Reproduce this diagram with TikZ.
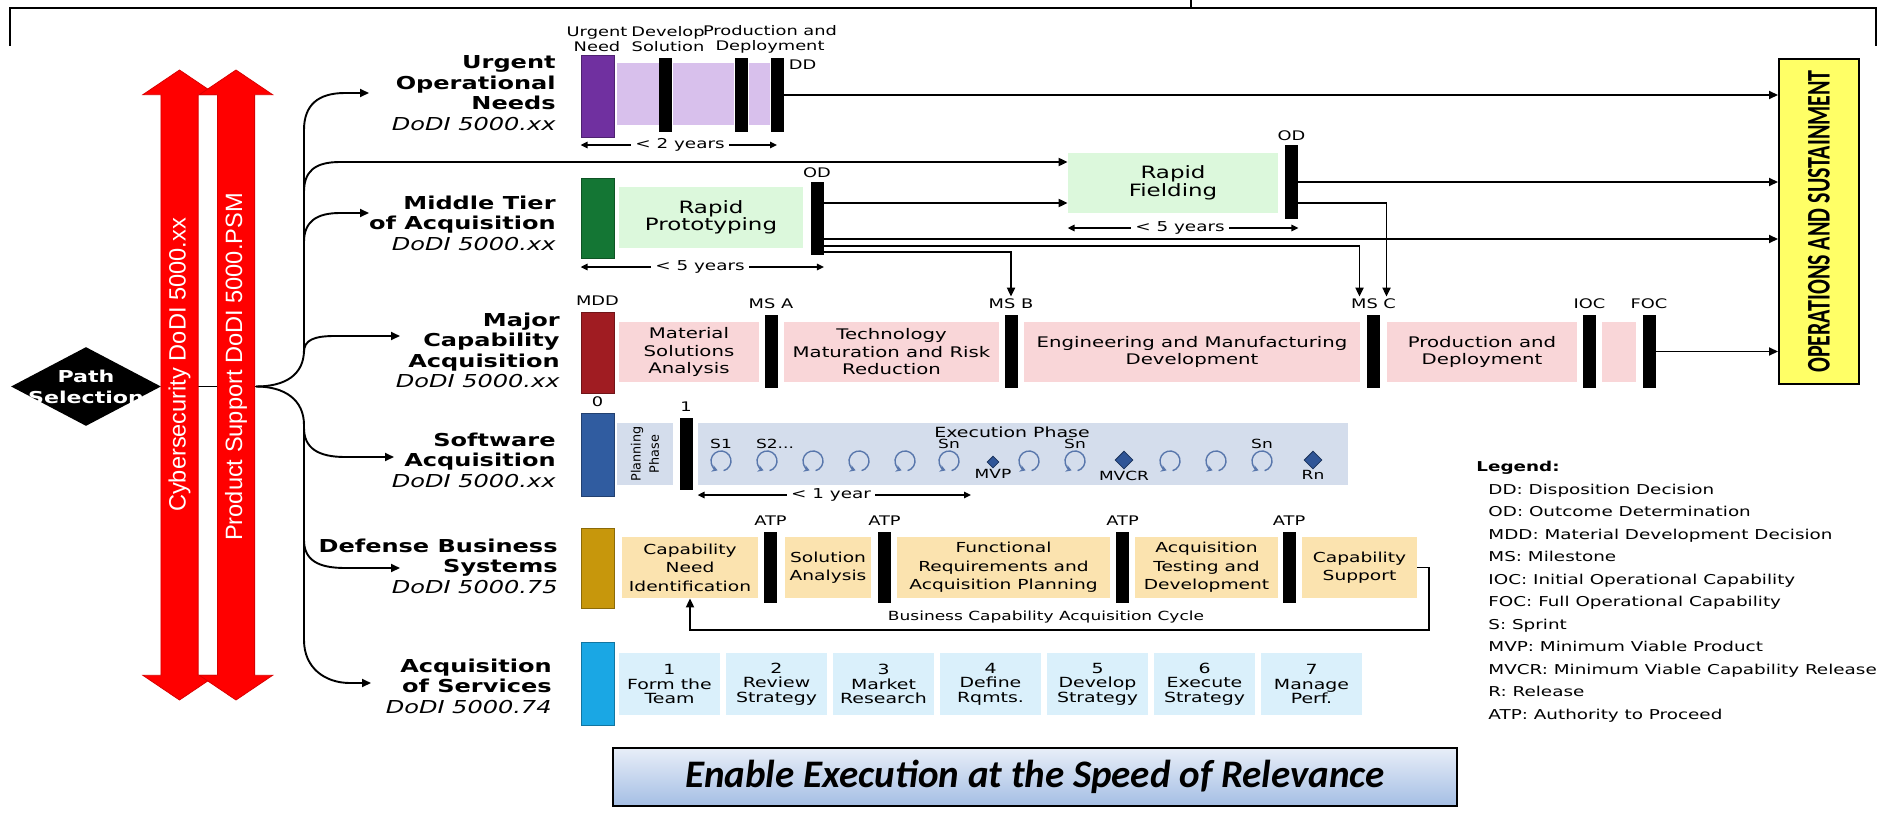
\documentclass[tikz,border=0pt]{standalone}
\usepackage{fontspec}
\usepackage{graphicx}
\setmainfont{DejaVu Sans}[FakeStretch=1.35]
\newfontfamily\plainfont{DejaVu Sans}
\newfontfamily\armfont{Liberation Sans}
\newfontfamily\bannerfont{Carlito}
\usetikzlibrary{shapes.geometric,shapes.arrows,arrows.meta,positioning}
\definecolor{uonpurple}{RGB}{112,48,160}
\definecolor{uonlight}{RGB}{216,192,236}
\definecolor{mtagreen}{RGB}{20,118,52}
\definecolor{mtalight}{RGB}{220,248,220}
\definecolor{mcared}{RGB}{160,28,34}
\definecolor{mcalight}{RGB}{249,214,216}
\definecolor{swablue}{RGB}{48,92,160}
\definecolor{swalight}{RGB}{212,221,236}
\definecolor{dbsgold}{RGB}{199,151,12}
\definecolor{dbslight}{RGB}{251,227,175}
\definecolor{aoscyan}{RGB}{26,167,228}
\definecolor{aoslight}{RGB}{218,240,251}
\definecolor{opsyellow}{RGB}{255,255,102}
\definecolor{arrowred}{RGB}{255,0,0}
\definecolor{sprintblue}{RGB}{47,85,151}
\definecolor{bannertop}{RGB}{232,238,248}
\definecolor{bannerbot}{RGB}{164,190,228}
\newcommand{\dodiref}[1]{{\normalfont\itshape DoDI #1}}
\newcommand{\phasefont}{\fontsize{7.3}{8.75}\selectfont}
\newcommand{\boxfont}{\fontsize{8.5}{8.8}\selectfont}
\newcommand{\dbsfont}{\fontsize{6.9}{9.25}\selectfont}
\newcommand{\aosfont}{\fontsize{7}{7.2}\selectfont}
\newcommand{\gatefont}{\fontsize{6.6}{7.5}\selectfont}

\begin{document}
\begin{tikzpicture}[x=0.5pt,y=-0.5pt,
    outerframe/.style={line width=1.1pt},
    rowlabel/.style={anchor=east,align=right,inner sep=0pt,font=\fontsize{8.9}{10.25}\selectfont\bfseries},
    pathbar/.style={fill=#1,draw=#1!70!black,line width=0.4pt,minimum width=16.5pt,inner sep=0pt},
    gate/.style={fill=black,minimum width=6.5pt,inner sep=0pt},
    phase/.style={fill=#1,inner sep=0pt,align=center},
    gatelabel/.style={font=\gatefont,inner sep=0.8pt},
    header/.style={font=\gatefont,align=center,inner sep=0pt},
    flow/.style={-{Triangle[length=4.5pt,width=4pt]},line width=0.95pt},
    branchline/.style={line width=0.95pt},
    spanarrow/.style={{Triangle[length=3.5pt,width=3.2pt]}-,line width=0.8pt},
    spantext/.style={font=\fontsize{6.8}{7}\selectfont,inner sep=2pt},
    sprint/.style={draw=sprintblue!80,line width=0.7pt,-{Stealth[length=2.8pt,width=3.4pt]}},
    sprintlabel/.style={font=\fontsize{6.3}{7}\selectfont,inner sep=0pt},
    release/.style={diamond,fill=sprintblue,draw=sprintblue!60!black,inner sep=0pt},
    policyarrow/.style={double arrow,rotate=90,fill=arrowred,draw=arrowred!85!black,text=white,
      minimum height=315pt,double arrow head extend=9pt,double arrow tip angle=112,
      inner xsep=0pt,inner ysep=3.7pt,text height=8.4pt,text depth=2.4pt,
      font=\armfont\fontsize{11.8}{12}\selectfont},
    pathselect/.style={diamond,fill=black,minimum width=75pt,minimum height=39.5pt,inner sep=0pt},
    opsbox/.style={draw=black,line width=1pt,fill=opsyellow,minimum width=40pt,minimum height=162.5pt,inner sep=0pt},
    banner/.style={draw=black,line width=1.3pt,top color=bannertop,bottom color=bannerbot,
      minimum width=422pt,minimum height=29pt,font=\bannerfont\bfseries\itshape\fontsize{19.5}{20}\selectfont},
    legendbox/.style={align=left,inner sep=0pt,font=\fontsize{6.8}{11.25}\selectfont}]
\useasboundingbox (0,0) rectangle (1894,813);

% outer frame
\draw[outerframe] (10,46) -- (10,8) -- (1876,8) -- (1876,46);
\draw[outerframe] (1191,0) -- (1191,8);

% operations and sustainment
\node[opsbox] (ops) at (1819,221.5) {\rotatebox{90}{\scalebox{1}[1.5]{\bannerfont\bfseries\fontsize{11}{12}\selectfont OPERATIONS AND SUSTAINMENT}}};

% row labels
\node[rowlabel] (uonlab) at (556,93) {Urgent\\Operational\\Needs\\\dodiref{5000.xx}};
\node[rowlabel] (mtalab) at (556,223) {Middle Tier\\of Acquisition\\\dodiref{5000.xx}};
\node[rowlabel] (mcalab) at (560,350.5) {Major\\Capability\\Acquisition\\\dodiref{5000.xx}};
\node[rowlabel] (swalab) at (556,460) {Software\\Acquisition\\\dodiref{5000.xx}};
\node[rowlabel] (dbslab) at (558,566) {Defense Business\\Systems\\\dodiref{5000.75}};
\node[rowlabel] (aoslab) at (552,686) {Acquisition\\of Services\\\dodiref{5000.74}};

% urgent operational needs
\node[header] (hdrneed) at (597,39.5) {Urgent\\Need};
\node[header] (hdrsol) at (668,39.5) {Develop\\Solution};
\node[header] (hdrprod) at (770,39.5) {Production and\\Deployment};
\node[pathbar=uonpurple, minimum height=41pt] (uonbar) at (597.5,96) {};
\node[phase=uonlight, minimum width=21pt, minimum height=31pt] (uonA) at (638,94) {};
\node[phase=uonlight, minimum width=30.5pt, minimum height=31pt] (uonB) at (703.5,94) {};
\node[phase=uonlight, minimum width=10.5pt, minimum height=31pt] (uonC) at (759.5,94) {};
\node[gate, minimum height=37pt] (uong1) at (665,95) {};
\node[gate, minimum height=37pt] (uong2) at (741,95) {};
\node[gate, minimum height=37pt] (uong3) at (777,95) {};
\node[gatelabel, anchor=north west] (ddlab) at ([xshift=1.5pt]uong3.north east) {DD};
\node[spantext] (uonspan) at (680,145) {< 2 years};
\draw[spanarrow] (uonbar.west |- uonspan) -- (uonspan.west);
\draw[spanarrow] (uong3 |- uonspan) -- (uonspan.east);
\draw[flow] (uong3.east) -- (uong3.east -| ops.west);

% middle tier of acquisition
\node[pathbar=mtagreen, minimum height=40pt] (mtabar) at (597.5,218) {};
\node[phase=mtalight, minimum width=92pt, minimum height=30.5pt, font=\boxfont] (rp) at (711,217.5) {Rapid\\Prototyping};
\node[gate, minimum height=36.5pt] (rpod) at (817,218.5) {};
\node[gatelabel, above=1pt of rpod] (rpodlab) {OD};
\node[phase=mtalight, minimum width=105pt, minimum height=30pt, font=\boxfont] (rf) at (1173,183) {Rapid\\Fielding};
\node[gate, minimum height=37pt] (rfod) at (1291.5,182) {};
\node[gatelabel, above=1pt of rfod] (rfodlab) {OD};
\node[spantext] (rpspan) at (700,267) {< 5 years};
\draw[spanarrow] (mtabar.west |- rpspan) -- (rpspan.west);
\draw[spanarrow] (rpod.east |- rpspan) -- (rpspan.east);
\node[spantext] (rfspan) at (1180,228) {< 5 years};
\draw[spanarrow] (rf.west |- rfspan) -- (rfspan.west);
\draw[spanarrow] (rfod.east |- rfspan) -- (rfspan.east);

% major capability acquisition
\node[pathbar=mcared, minimum height=40.5pt] (mcabar) at (597.5,352.5) {};
\node[gatelabel, above=2pt of mcabar] (mddlab) {MDD};
\node[phase=mcalight, minimum width=70pt, minimum height=30pt, font=\phasefont] (msa) at (689,352) {Material\\Solutions\\Analysis};
\node[gate, minimum height=36.5pt] (msagate) at (771,351.5) {};
\node[gatelabel, above=2pt of msagate] (msalab) {MS A};
\node[phase=mcalight, minimum width=107.5pt, minimum height=30pt, font=\phasefont] (tmrr) at (891.5,352) {Technology\\Maturation and Risk\\Reduction};
\node[gate, minimum height=36.5pt] (msbgate) at (1011,351.5) {};
\node[gatelabel, above=2pt of msbgate] (msblab) {MS B};
\node[phase=mcalight, minimum width=168pt, minimum height=30pt, font=\phasefont] (emd) at (1192,352) {Engineering and Manufacturing\\Development};
\node[gate, minimum height=36.5pt] (mscgate) at (1373.5,351.5) {};
\node[gatelabel, above=2pt of mscgate] (msclab) {MS C};
\node[phase=mcalight, minimum width=95pt, minimum height=30pt, font=\phasefont] (pd) at (1482,352) {Production and\\Deployment};
\node[gate, minimum height=36.5pt] (iocgate) at (1589.5,351.5) {};
\node[gatelabel, above=2pt of iocgate] (ioclab) {IOC};
\node[phase=mcalight, minimum width=17pt, minimum height=30pt] (os) at (1619,352) {};
\node[gate, minimum height=36.5pt] (focgate) at (1649,351.5) {};
\node[gatelabel, above=2pt of focgate] (foclab) {FOC};
\draw[flow] (focgate.east) -- (focgate.east -| ops.west);

% middle tier hand-offs
\draw[flow] ([yshift=7.75pt]rpod.east) -- ([yshift=7.75pt]rpod.east -| rf.west);
\draw[flow] (rfod.east) -- (rfod.east -| ops.west);
\draw[flow] ([yshift=-10.5pt]rfod.east) -| ([xshift=6.5pt]msclab.north);
\draw[flow] ([yshift=-10.25pt]rpod.east) -- ([yshift=-10.25pt]rpod.east -| ops.west);
\draw[flow] ([yshift=-13.75pt]rpod.east) -| ([xshift=-7pt]msclab.north);
\draw[flow] ([yshift=-16.75pt]rpod.east) -| (msblab.north);

% software acquisition
\node[pathbar=swablue, minimum height=41.5pt] (swabar) at (597.5,454.5) {};
\node[gatelabel, above=2pt of swabar] (zerolab) {0};
\node[phase=swalight, minimum width=28pt, minimum height=31pt] (plan) at (645,454) {\rotatebox{90}{\plainfont\fontsize{6.4}{6.6}\selectfont\shortstack{Planning\\Phase}}};
\node[gate, minimum height=36pt] (swagate) at (686,454) {};
\node[gatelabel, above=2pt of swagate] (onelab) {1};
\node[phase=swalight, minimum width=325pt, minimum height=31pt] (exec) at (1023,454) {};
\node[font=\fontsize{7}{8}\selectfont, inner sep=0pt] (exectitle) at (1012,432) {Execution Phase};
\foreach \sx [count=\k] in {721,767,813,859,905,949,1029,1075,1170,1216,1262} {
  \coordinate (spr\k) at (\sx,461);
  \draw[sprint] ([shift={(-75:5pt)}]spr\k) arc[start angle=-75, end angle=250, radius=5pt];
}
\node[sprintlabel, above=6pt of spr1] (s1lab) {S1};
\node[sprintlabel, above=6pt of spr2, xshift=4pt] (s2lab) {S2...};
\node[sprintlabel, above=6pt of spr6] (sn1lab) {Sn};
\node[sprintlabel, above=6pt of spr8] (sn2lab) {Sn};
\node[sprintlabel, above=6pt of spr11] (sn3lab) {Sn};
\node[release, minimum size=6pt] (mvp) at (993,462) {};
\node[release, minimum size=9pt] (mvcr) at (1124,460) {};
\node[release, minimum size=9pt] (rn) at (1313,460) {};
\node[sprintlabel, below=0.5pt of mvp] (mvplab) {MVP};
\node[sprintlabel, below=0.5pt of mvcr] (mvcrlab) {MVCR};
\node[sprintlabel, below=0.5pt of rn] (rnlab) {Rn};
\node[spantext] (swaspan) at (831,495) {< 1 year};
\draw[spanarrow] (exec.west |- swaspan) -- (swaspan.west);
\draw[spanarrow] ([xshift=11pt]spr6 |- swaspan) -- (swaspan.east);

% defense business systems
\node[pathbar=dbsgold, minimum height=40pt] (dbsbar) at (597.5,568) {};
\node[phase=dbslight, minimum width=68pt, minimum height=30.5pt, font=\dbsfont] (cni) at (690,567.5) {Capability\\Need\\Identification};
\node[gate, minimum height=35.5pt] (atp1) at (770.5,567.5) {};
\node[phase=dbslight, minimum width=43pt, minimum height=30.5pt, font=\dbsfont] (sa) at (828,567.5) {Solution\\Analysis};
\node[gate, minimum height=35.5pt] (atp2) at (884.5,567.5) {};
\node[phase=dbslight, minimum width=106.5pt, minimum height=30.5pt, font=\dbsfont] (fra) at (1003.5,567.5) {Functional\\Requirements and\\Acquisition Planning};
\node[gate, minimum height=35.5pt] (atp3) at (1122.5,567.5) {};
\node[phase=dbslight, minimum width=71.5pt, minimum height=30.5pt, font=\dbsfont] (atd) at (1206.5,567.5) {Acquisition\\Testing and\\Development};
\node[gate, minimum height=35.5pt] (atp4) at (1289,567.5) {};
\node[phase=dbslight, minimum width=57.5pt, minimum height=30.5pt, font=\dbsfont] (cs) at (1359.5,567.5) {Capability\\Support};
\foreach \g in {1,2,3,4}
  \node[gatelabel, above=2pt of atp\g] (atplab\g) {ATP};
\draw[flow] (cs.east) -- ++(6pt,0) |- ([yshift=-16pt]cni.south) -- (cni.south);
\node[font=\fontsize{6.3}{7}\selectfont, inner sep=0pt] (cyclelab) at (1046,617) {Business Capability Acquisition Cycle};

% acquisition of services
\node[pathbar=aoscyan, minimum height=41.5pt] (aosbar) at (597.5,683.5) {};
\foreach \txt [count=\k] in {{1\\Form the\\Team},{2\\Review\\Strategy},{3\\Market\\Research},{4\\Define\\Rqmts.},{5\\Develop\\Strategy},{6\\Execute\\Strategy},{7\\Manage\\Perf.}}
  \node[phase=aoslight, minimum width=50.5pt, minimum height=31pt, font=\aosfont] (svc\k) at ({669.5+107*(\k-1)},684) {\txt};

% path selection and branches
\node[pathselect, label={[text=white, align=center, font=\fontsize{8.2}{10.5}\selectfont\bfseries]center:Path\\Selection}] (path) at (86,386.5) {};
\coordinate (junction) at (256,386.5);
\coordinate (trunktop) at (304,130);
\coordinate (trunkbot) at (304,640);
\coordinate (uonin) at (369,93);
\coordinate (mtain) at (369,213);
\coordinate (mcain) at (400,336);
\coordinate (swain) at (394,457);
\coordinate (dbsin) at (400,568);
\coordinate (aosin) at (371,683);
\draw[branchline] (path.east) -- (junction);
\draw[branchline] (junction) .. controls (285,386.5) and (304,375) .. (304,350) -- (trunktop);
\draw[branchline] (junction) .. controls (285,386.5) and (304,400) .. (304,425) -- (trunkbot);
\draw[flow] (trunktop) .. controls (304,105) and (318,93) .. (345,93) -- (uonin);
\draw[flow] (304,192) .. controls (304,172) and (314,162) .. (340,162) -- ([yshift=10.5pt]rf.west);
\draw[flow] (304,242) .. controls (304,222) and (316,213) .. (340,213) -- (mtain);
\draw[flow] (304,352) .. controls (304,340) and (314,336) .. (335,336) -- (mcain);
\draw[flow] (304,428) .. controls (304,448) and (318,457) .. (345,457) -- (swain);
\draw[flow] (304,540) .. controls (304,560) and (318,568) .. (345,568) -- (dbsin);
\draw[flow] (trunkbot) .. controls (304,668) and (325,683) .. (350,683) -- (aosin);

% policy arrows
\node[policyarrow] (cyber) at (179.5,385) {\hspace*{20pt}Cybersecurity DoDI 5000.xx};
\node[policyarrow] (psm) at (236,385) {\hspace*{18pt}Product Support DoDI 5000.PSM};

% legend
\node[legendbox, anchor=north west] (legend) at (1476,461) {\textbf{Legend:}\\
  \hspace*{6pt}DD: Disposition Decision\\
  \hspace*{6pt}OD: Outcome Determination\\
  \hspace*{6pt}MDD: Material Development Decision\\
  \hspace*{6pt}MS: Milestone\\
  \hspace*{6pt}IOC: Initial Operational Capability\\
  \hspace*{6pt}FOC: Full Operational Capability\\
  \hspace*{6pt}S: Sprint\\
  \hspace*{6pt}MVP: Minimum Viable Product\\
  \hspace*{6pt}MVCR: Minimum Viable Capability Release\\
  \hspace*{6pt}R: Release\\
  \hspace*{6pt}ATP: Authority to Proceed};

% banner
\node[banner] (speed) at (1035,777) {Enable Execution at the Speed of Relevance};
\end{tikzpicture}
\end{document}
